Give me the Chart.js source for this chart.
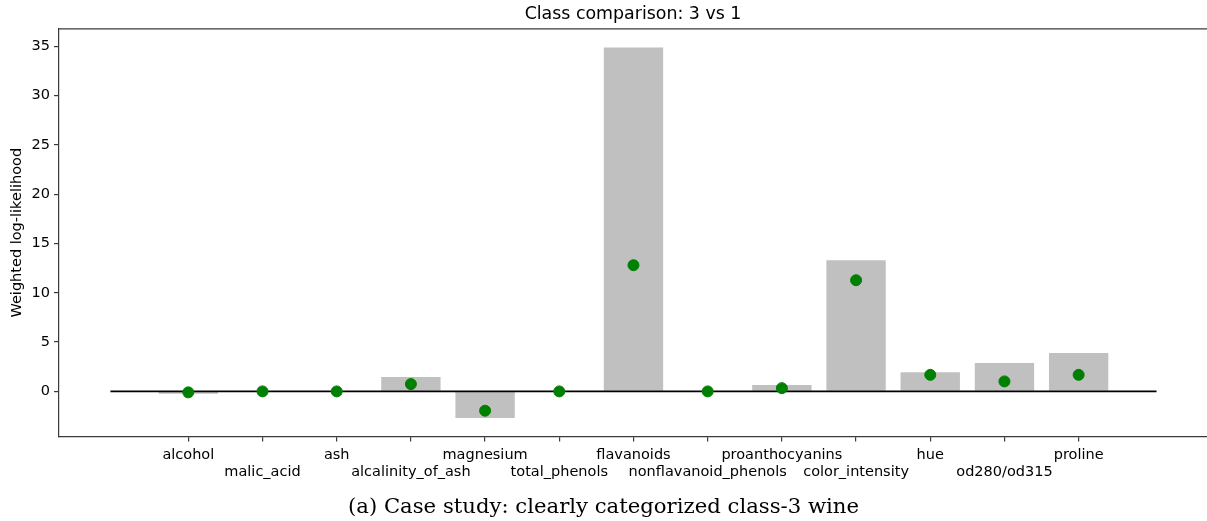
<!DOCTYPE html>
<html>
<head>
<meta charset="utf-8">
<script src="https://cdn.jsdelivr.net/npm/chart.js@4"></script>
<style>
  html, body { margin: 0; padding: 0; background: #fff; }
  #wrap { width: 1207px; height: 521px; position: relative; }
</style>
</head>
<body>
<div id="wrap"><canvas id="c"></canvas></div>
<script>
const categories = ["alcohol", "malic_acid", "ash", "alcalinity_of_ash", "magnesium", "total_phenols",
  "flavanoids", "nonflavanoid_phenols", "proanthocyanins", "color_intensity", "hue", "od280/od315", "proline"];
const barValues = [-0.24, 0.0, 0.0, 1.45, -2.7, 0.0, 34.87, 0.0, 0.64, 13.3, 1.95, 2.87, 3.88];
const dotValues = [-0.1, 0.0, 0.0, 0.74, -1.96, 0.0, 12.79, 0.0, 0.33, 11.27, 1.68, 1.01, 1.68];
const zeroLineX = [-1.05, 13.05];
const yTicks = [0, 5, 10, 15, 20, 25, 30, 35];
const titleText = "Class comparison: 3 vs 1";
const yLabel = "Weighted log-likelihood";
const captionText = "(a) Case study: clearly categorized class-3 wine";

const SANS = "'DejaVu Sans', sans-serif";
const AX = '#3a3a3a';

const topSpine = {
  id: 'topSpine',
  afterDraw(chart) {
    const { ctx, chartArea } = chart;
    ctx.save();
    ctx.strokeStyle = AX;
    ctx.lineWidth = 1.2;
    ctx.beginPath();
    ctx.moveTo(chartArea.left, chartArea.top);
    ctx.lineTo(chartArea.right, chartArea.top);
    ctx.stroke();
    ctx.restore();
  }
};

new Chart(document.getElementById('c'), {
  type: 'bar',
  data: {
    datasets: [
      {
        type: 'scatter',
        data: dotValues.map((v, i) => ({ x: i, y: v })),
        backgroundColor: '#008000',
        borderColor: '#008000',
        pointRadius: 5.5,
        pointHoverRadius: 5.5,
        order: 0
      },
      {
        type: 'line',
        data: zeroLineX.map(x => ({ x: x, y: 0 })),
        borderColor: '#000',
        borderWidth: 1.8,
        pointRadius: 0,
        fill: false,
        order: 1
      },
      {
        type: 'bar',
        data: barValues.map((v, i) => ({ x: i, y: v })),
        backgroundColor: '#c0c0c0',
        borderWidth: 0,
        barPercentage: 0.8,
        categoryPercentage: 1.0,
        order: 2
      }
    ]
  },
  options: {
    responsive: true,
    maintainAspectRatio: false,
    animation: false,
    devicePixelRatio: 1,
    layout: { autoPadding: false, padding: { left: 0, right: 0, top: 0, bottom: 0 } },
    plugins: {
      legend: { display: false },
      tooltip: { enabled: false },
      title: {
        display: true,
        text: titleText,
        fullSize: false,
        color: '#000',
        font: { family: SANS, size: 17.4, weight: 'normal' },
        padding: { top: 4, bottom: 4 }
      },
      subtitle: {
        display: true,
        position: 'bottom',
        text: captionText,
        color: '#000',
        font: { family: "'DejaVu Serif', serif", size: 21.2, weight: 'normal' },
        padding: { top: 5, bottom: 1 }
      }
    },
    scales: {
      x: {
        type: 'linear',
        min: -1.743,
        max: 13.73,
        offset: false,
        afterBuildTicks: (s) => { s.ticks = categories.map((c, i) => ({ value: i })); },
        afterFit: (s) => { s.height = 53; s.paddingLeft = 0; s.paddingRight = 0; },
        ticks: {
          color: '#000',
          font: { family: SANS, size: 14.5 },
          padding: 5,
          maxRotation: 0,
          autoSkip: false,
          callback: (v) => {
            const i = Math.round(v);
            const lab = categories[i];
            if (lab === undefined) return '';
            return i % 2 === 0 ? [lab] : ['', lab];
          }
        },
        grid: { offset: false, drawOnChartArea: false, drawTicks: true, tickLength: 5, color: AX, lineWidth: 1.2 },
        border: { display: true, color: AX, width: 1.2 }
      },
      y: {
        type: 'linear',
        min: -4.58,
        max: 36.75,
        afterBuildTicks: (s) => { s.ticks = yTicks.map(v => ({ value: v })); },
        afterFit: (s) => { s.width = 59; },
        ticks: {
          color: '#000',
          font: { family: SANS, size: 14.5 },
          padding: 4
        },
        grid: { drawOnChartArea: false, drawTicks: true, tickLength: 5, color: AX, lineWidth: 1.2 },
        border: { display: true, color: AX, width: 1.2 },
        title: {
          display: true,
          text: yLabel,
          color: '#000',
          font: { family: SANS, size: 14.5 },
          padding: { top: 9, bottom: 0 }
        }
      }
    }
  },
  plugins: [topSpine]
});
</script>
</body>
</html>
